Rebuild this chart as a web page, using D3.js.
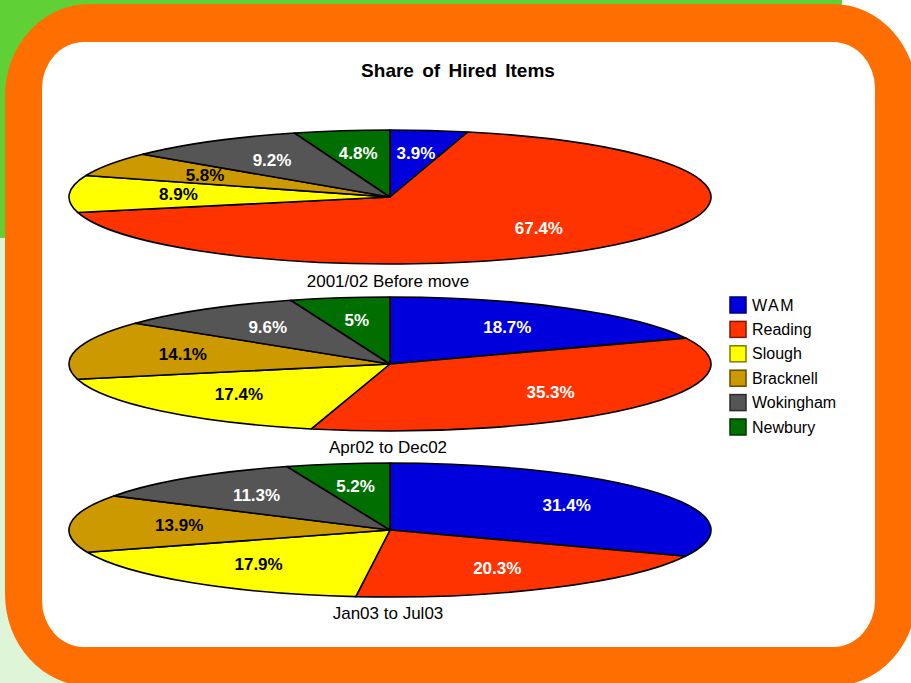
<!DOCTYPE html>
<html><head><meta charset="utf-8">
<script src="https://cdn.jsdelivr.net/npm/d3@7"></script>
<style>body{margin:0;background:#fff}svg{display:block;font-family:"Liberation Sans",Arial,sans-serif}</style>
</head><body>
<svg id="c" width="911" height="683"></svg>
<script>
const categories = ["WAM","Reading","Slough","Bracknell","Wokingham","Newbury"];
const colors = ["#0000dd","#ff3300","#ffff00","#cc9900","#555555","#006e00"];
const labelColors = ["#fff","#fff","#000","#000","#fff","#fff"];
const periods = ["2001/02 Before move","Apr02 to Dec02","Jan03 to Jul03"];
const values2001 = [3.9,67.4,8.9,5.8,9.2,4.8];
const valuesApr02 = [18.7,35.3,17.4,14.1,9.6,5];
const valuesJan03 = [31.4,20.3,17.9,13.9,11.3,5.2];
const seriesValues = [values2001, valuesApr02, valuesJan03];
const title = "Share of Hired Items";

const svg = d3.select("#c");
// backgrounds
svg.append("rect").attr("x",0).attr("y",238).attr("width",450).attr("height",445).attr("fill","#dff5d8");
svg.append("rect").attr("x",0).attr("y",0).attr("width",842).attr("height",238).attr("fill","#5fd035");
svg.append("rect").attr("x",5).attr("y",4).attr("width",912).attr("height",682).attr("rx",84).attr("ry",92).attr("fill","#ff6e00");
svg.append("rect").attr("x",42).attr("y",42).attr("width",833).attr("height",605).attr("rx",42).attr("ry",46).attr("fill","#fff");

svg.append("text").attr("x",458).attr("y",70).attr("text-anchor","middle").attr("dominant-baseline","central")
  .attr("font-size",19).attr("font-weight","bold").attr("word-spacing",3).text(title);

const cx = 390, rx = 321, ry = 67;
const centersY = [197, 364, 530];
const subY = [281, 447, 613];
const pie = d3.pie().sort(null).value(d=>d);
const arc = d3.arc().innerRadius(0).outerRadius(rx);
const lab = d3.arc().innerRadius(rx*0.66).outerRadius(rx*0.66);

seriesValues.forEach((vals,i)=>{
  const g = svg.append("g").attr("transform",`translate(${cx},${centersY[i]})`);
  const gs = g.append("g").attr("transform",`scale(1,${ry/rx})`);
  const arcs = pie(vals);
  gs.selectAll("path").data(arcs).join("path")
    .attr("d",arc).attr("fill",(d,j)=>colors[j])
    .attr("stroke","#000").attr("stroke-width",1.6).attr("stroke-linejoin","round")
    .attr("vector-effect","non-scaling-stroke");
  g.selectAll("text").data(arcs).join("text")
    .attr("x",d=>lab.centroid(d)[0]).attr("y",d=>lab.centroid(d)[1]*ry/rx)
    .attr("text-anchor","middle").attr("dominant-baseline","central")
    .attr("font-size",17).attr("font-weight","bold")
    .attr("fill",(d,j)=>labelColors[j]).text(d=>d.data+"%");
  svg.append("text").attr("x",cx-2).attr("y",subY[i]).attr("text-anchor","middle").attr("dominant-baseline","central")
    .attr("font-size",17).text(periods[i]);
});

const lg = svg.append("g");
categories.forEach((c,j)=>{
  const y = 305 + j*24.4;
  lg.append("rect").attr("x",730).attr("y",y-8).attr("width",16).attr("height",16)
    .attr("fill",colors[j]).attr("stroke",d3.color(colors[j]).darker(2)).attr("stroke-width",1.5);
  lg.append("text").attr("x",752).attr("y",y).attr("dominant-baseline","central")
    .attr("font-size",16).attr("letter-spacing",j===0?1.5:0).text(c);
});
</script>
</body></html>
